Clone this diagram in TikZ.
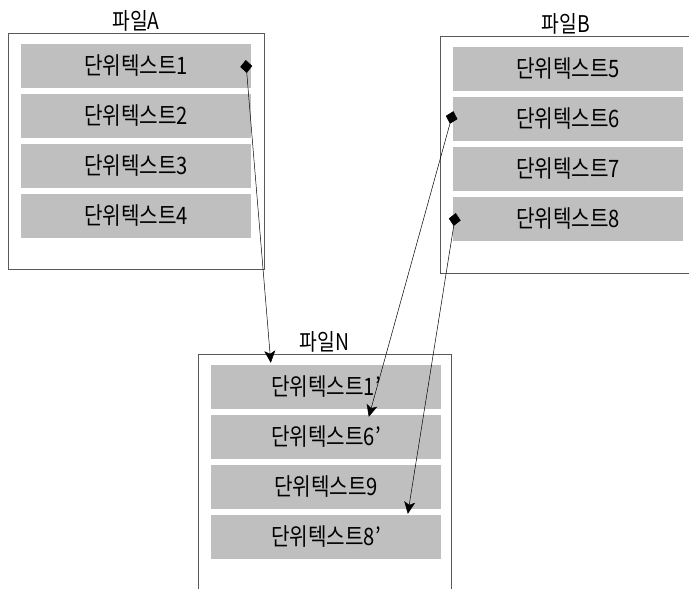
\documentclass[tikz,border=0pt]{standalone}
\usepackage{fontspec}
\setmainfont{Noto Sans CJK KR}[FakeStretch=0.84]
\usetikzlibrary{arrows.meta}

\tikzset{
    strip/.style={fill=black!25, minimum width=230pt, minimum height=44pt,
        inner sep=0pt, font=\fontsize{24}{27}\selectfont},
    filebox/.style={draw=black!65, line width=0.7pt},
    title/.style={font=\fontsize{23}{26}\selectfont, inner sep=1pt},
    link/.style={line width=0.5pt, shorten <=-6pt,
        {Diamond[length=13pt,width=12pt]}-{Stealth[length=12pt,width=11pt,inset=3pt]}}
}
% 한 파일 안의 단위텍스트 줄
\newcommand{\pile}[4]{%
    \foreach \lbl/\id [count=\n] in {#4} {
        \node[strip] (#1\id) at (#2,{#3+50*(\n-1)}) {\lbl};
    }%
}

\begin{document}
\begin{tikzpicture}[x=1pt,y=-1pt]
    \useasboundingbox (0,0) rectangle (689,589);
    \clip (0,0) rectangle (689,589);
    \node[filebox, minimum width=256pt, minimum height=236pt,
        label={[title]above:파일A}] (fa) at (136,151) {};
    \node[filebox, minimum width=252pt, minimum height=237pt,
        label={[title]above:파일B}] (fb) at (566,154.5) {};
    \node[filebox, minimum width=253pt, minimum height=246pt,
        label={[title]above:파일N}] (fn) at (324.5,477) {};
    \pile{a}{136}{66}{단위텍스트1/1,단위텍스트2/2,단위텍스트3/3,단위텍스트4/4}
    \pile{b}{568}{69}{단위텍스트5/5,단위텍스트6/6,단위텍스트7/7,단위텍스트8/8}
    \pile{n}{326}{387}{단위텍스트1’/1,단위텍스트6’/6,단위텍스트9/9,단위텍스트8’/8}
    % 옮겨지는 단위텍스트
    \draw[link] ([xshift=-5pt]a1.east) -- ([xshift=60pt,yshift=2pt]n1.north west);
    \draw[link] ([xshift=-1pt,yshift=2pt]b6.west) -- ([xshift=158pt,yshift=-2pt]n6.north west);
    \draw[link] ([xshift=2pt]b8.west) -- ([xshift=197pt,yshift=1pt]n8.north west);
\end{tikzpicture}
\end{document}
